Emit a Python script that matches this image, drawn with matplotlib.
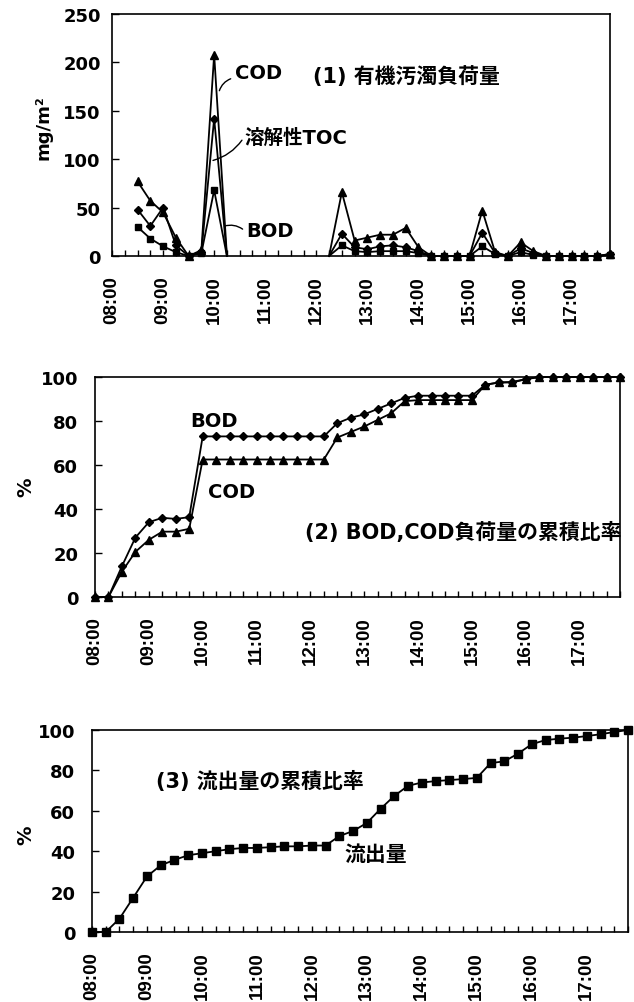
import numpy as np
import matplotlib
matplotlib.use("Agg")
import matplotlib.pyplot as plt

plt.rcParams['font.family'] = ['DejaVu Sans', 'Noto Sans CJK JP']

# 15-minute sampling from 08:00 to 17:45
times = ["%02d:%02d" % (8 + (i * 15) // 60, (i * 15) % 60) for i in range(40)]
tick_labels = [t if i % 4 == 0 else "" for i, t in enumerate(times)]

nan = np.nan
# (1) pollutant loads, mg/m2 (no data 10:30-12:00)
load_cod = [nan, nan, 77, 57, 45, 19, 0, 6, 208, 0,
            nan, nan, nan, nan, nan, nan, nan,
            0, 66, 16, 19, 22, 22, 29, 9, 0, 0, 0, 0, 47, 4, 0, 14, 5, 0, 0, 0, 0, 0, 2]
load_toc = [nan, nan, 48, 31, 50, 11, 0, 4, 142, 0,
            nan, nan, nan, nan, nan, nan, nan,
            0, 23, 9, 7, 10, 11, 9, 5, 0, 0, 0, 0, 24, 3, 0, 8, 3, 0, 0, 0, 0, 0, 2]
load_bod = [nan, nan, 30, 18, 10, 4, 0, 3, 68, 0,
            nan, nan, nan, nan, nan, nan, nan,
            0, 11, 5, 4, 5, 5, 5, 3, 0, 0, 0, 0, 10, 2, 0, 4, 1, 0, 0, 0, 0, 0, 1]
# line ends at these samples carry no marker
unmarked = [9, 17]

# (2) cumulative load ratio, %
cum_bod = [0, 0, 14, 27, 34, 36, 35.5, 36.3,
           73, 73, 73, 73, 73, 73, 73, 73, 73, 73,
           79, 81.5, 83, 85.5, 88, 90.5, 91.5, 91.5, 91.5, 91.5, 91.5,
           96.5, 97.5, 97.8, 99, 100, 100, 100, 100, 100, 100, 100]
cum_cod = [0, 0, 11.5, 20.5, 26, 29.7, 29.7, 31,
           62.5, 62.5, 62.5, 62.5, 62.5, 62.5, 62.5, 62.5, 62.5, 62.5,
           72.5, 75, 77.5, 80.5, 83.5, 89, 89.5, 89.5, 89.5, 89.5, 89.5,
           96.5, 97.5, 97.5, 99, 100, 100, 100, 100, 100, 100, 100]

# (3) cumulative runoff ratio, %
cum_flow = [0, 0, 6.6, 17, 27.5, 33, 35.7, 38, 39, 40, 41, 41.6, 41.6, 42, 42.4,
            42.4, 42.8, 42.8, 47.5, 50, 54, 61, 67.4, 72.4, 74, 74.7, 75.2, 75.7,
            76.3, 83.6, 84.5, 88.3, 93, 95, 95.7, 96.2, 97, 97.9, 99, 100]

W, H = 634, 1003
fig = plt.figure(figsize=(W / 100, H / 100), dpi=100)


def px_axes(l, t, r, b):
    return fig.add_axes([l / W, (H - b) / H, (r - l) / W, (b - t) / H])


def style(ax, ymax, ystep):
    x = np.arange(len(times))
    ax.set_xlim(0, len(times) - 1)
    ax.set_ylim(0, ymax)
    ax.set_xticks(x)
    ax.set_xticklabels(tick_labels, rotation=90, fontsize=13.5, fontweight='bold',
                       family=['Liberation Sans', 'DejaVu Sans'])
    ax.set_yticks(np.arange(0, ymax + 1, ystep))
    for lab in ax.get_yticklabels():
        lab.set_fontsize(13)
        lab.set_fontweight('bold')
    ax.tick_params(axis='x', direction='in', length=4, width=1, pad=14)
    ax.tick_params(axis='y', direction='in', length=5, width=1, pad=12)
    for s in ax.spines.values():
        s.set_linewidth(1.2)


x = np.arange(len(times))
mk = dict(color='black', lw=1.3, clip_on=False)


def marks(vals):
    return [i for i, v in enumerate(vals) if not np.isnan(v) and i not in unmarked]


# ---- (1) loads
ax1 = px_axes(112, 15, 610, 257)
ax1.plot(x, load_cod, marker='^', ms=6, markevery=marks(load_cod), **mk)
ax1.plot(x, load_toc, marker='D', ms=4.5, markevery=marks(load_toc), **mk)
ax1.plot(x, load_bod, marker='s', ms=5, markevery=marks(load_bod), **mk)
style(ax1, 250, 50)
ax1.tick_params(axis='y', pad=8)
ax1.text(15.75, 186, "(1) 有機汚濁負荷量", fontsize=15, fontweight='bold', va='center')
ax1.text(9.6, 190, "COD", fontsize=14, fontweight='bold', va='center')
ax1.annotate("", xy=(8.35, 168), xytext=(9.5, 184),
             arrowprops=dict(arrowstyle='-', lw=1, connectionstyle="arc3,rad=0.3"))
ax1.text(10.4, 123, "溶解性TOC", fontsize=14, fontweight='bold', va='center')
ax1.annotate("", xy=(7.7, 98), xytext=(10.3, 122),
             arrowprops=dict(arrowstyle='-', lw=1, connectionstyle="arc3,rad=-0.2"))
ax1.text(10.5, 26, "BOD", fontsize=14, fontweight='bold', va='center')
ax1.annotate("", xy=(8.6, 30), xytext=(10.4, 26),
             arrowprops=dict(arrowstyle='-', lw=1, connectionstyle="arc3,rad=0.3"))
fig.text(43 / W, 1 - 128 / H, "mg/m²", rotation=90, fontsize=13, fontweight='bold',
         ha='center', va='center')

# ---- (2) cumulative loads
ax2 = px_axes(95, 378, 620, 598)
ax2.plot(x, cum_bod, marker='D', ms=4.5, **mk)
ax2.plot(x, cum_cod, marker='^', ms=6, **mk)
style(ax2, 100, 20)
ax2.text(7.1, 80, "BOD", fontsize=14, fontweight='bold', va='center')
ax2.text(8.4, 48, "COD", fontsize=14, fontweight='bold', va='center')
ax2.text(15.6, 30, "(2) BOD,COD負荷量の累積比率", fontsize=15, fontweight='bold',
         va='center', clip_on=False)
fig.text(26 / W, 1 - 487 / H, "%", rotation=90, fontsize=14, fontweight='bold',
         ha='center', va='center')

# ---- (3) cumulative runoff
ax3 = px_axes(92, 731, 628, 933)
ax3.plot(x, cum_flow, marker='s', ms=5.5, **mk)
style(ax3, 100, 20)
ax3.text(4.66, 75, "(3) 流出量の累積比率", fontsize=15, fontweight='bold', va='center')
ax3.text(18.4, 38.5, "流出量", fontsize=15, fontweight='bold', va='center')
fig.text(26 / W, 1 - 835 / H, "%", rotation=90, fontsize=14, fontweight='bold',
         ha='center', va='center')

fig.savefig("out.png", dpi=100)
